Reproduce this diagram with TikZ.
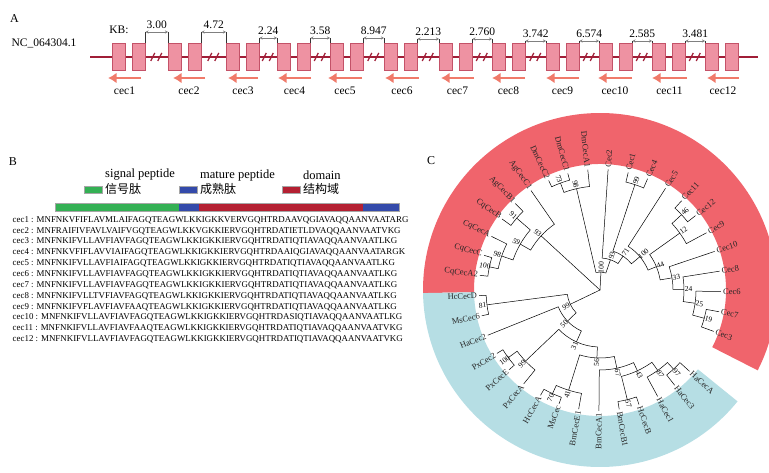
\documentclass[tikz,border=0pt]{standalone}
\usepackage{fontspec}
\setmainfont{Liberation Serif}
\newfontfamily\cjk{Noto Sans CJK SC}
\usetikzlibrary{arrows.meta}

\definecolor{chrline}{RGB}{160,30,55}
\definecolor{exonfill}{RGB}{238,146,162}
\definecolor{exondraw}{RGB}{196,82,104}
\definecolor{dirarrow}{RGB}{240,122,106}
\definecolor{sigcol}{RGB}{52,176,84}
\definecolor{matcol}{RGB}{52,74,170}
\definecolor{domcol}{RGB}{180,32,50}
\definecolor{bandred}{RGB}{240,100,108}
\definecolor{bandblue}{RGB}{182,222,228}

%% leaf of the tree: angle, name
\newcommand{\leaf}[2]{%
  \expandafter\xdef\csname ang#2\endcsname{#1}%
  \coordinate (#2) at (#1:121);
  \pgfmathtruncatemacro\lfS{cos(#1)>=0}%
  \ifnum\lfS=1
    \node[leaflab,anchor=west,rotate=#1] (#2t) at (#1:123) {#2};
  \else
    \pgfmathsetmacro\lfR{#1-180}%
    \node[leaflab,anchor=east,rotate=\lfR] (#2t) at (#1:123) {#2};
  \fi}
%% clade: name, child, child, radius, support
\newcommand{\clade}[5]{%
  \edef\angA{\csname ang#2\endcsname}\edef\angB{\csname ang#3\endcsname}%
  \pgfmathsetmacro\angM{(\angA+\angB)/2}%
  \expandafter\xdef\csname ang#1\endcsname{\angM}%
  \pgfmathsetmacro\angR{cos(\angM)>=0 ? \angM : \angM-180}%
  \draw[treeline] (#2) -- (\angA:#4) arc[start angle=\angA, end angle=\angB, radius=#4] -- (#3);
  \coordinate (#1) at (\angM:#4);
  \node[boot,rotate=\angR] (#1t) at (\angM:#4+4.5) {#5};}

\begin{document}
\begin{tikzpicture}[x=1pt,y=1pt,
    panlab/.style={font=\fontsize{12}{14}\selectfont},
    exon/.style={draw=exondraw,fill=exonfill,line width=0.6pt,minimum width=13.5pt,minimum height=27pt,inner sep=0pt},
    genearrow/.style={dirarrow,line width=2.8pt,-{Latex[length=8.5pt,width=10.5pt]}},
    genelab/.style={font=\fontsize{11.5}{13}\selectfont,inner sep=0pt},
    kbtick/.style={black!80,line width=0.5pt},
    dimarrow/.style={gray,line width=0.5pt,{Stealth[length=3pt,width=3pt]}-{Stealth[length=3pt,width=3pt]}},
    breakmark/.style={chrline,line width=1.3pt},
    legtxt/.style={font=\fontsize{12.5}{14}\selectfont,inner sep=0pt,anchor=west},
    legcjk/.style={font=\cjk\fontsize{12}{14}\selectfont,inner sep=0pt,anchor=west},
    legbox/.style={draw=gray!70,minimum width=18pt,minimum height=7pt,inner sep=0pt},
    seqtxt/.style={font=\fontsize{8.9}{10}\selectfont,inner sep=0pt,anchor=west},
    leaflab/.style={font=\fontsize{8.5}{10}\selectfont,inner sep=0pt,text=black!85},
    boot/.style={font=\fontsize{7.5}{8}\selectfont,inner sep=0.3pt},
    treeline/.style={black,line width=0.5pt}]
    \useasboundingbox (0,0) rectangle (769,-473);

    %% ---------- A: gene map ----------
    \node[panlab] (labA) at (14.5,-19) {A};
    \node[genelab] (chrom) at (44,-43) {NC\_064304.1};
    \node[genelab] (kbunit) at (119,-29.5) {KB:};
    \draw[chrline,line width=1.6pt] (90,-57) -- (758,-57);
    %% exon pairs, direction arrows, gene names
    \foreach \gx/\ax/\bx/\gname [count=\i] in {112/108/141/cec1, 168/173/205/cec2,
        226/228/258/cec3, 277/278/311/cec4, 330/328/362/cec5, 384/385/419/cec6,
        439/441/474/cec7, 492/492/525/cec8, 546/546/579/cec9, 599/598/632/cec10,
        652/652/687/cec11, 705/707/739/cec12} {
      \node[exon] (e\i a) at (\gx+6.75,-57) {};
      \node[exon] (e\i b) at (\gx+26.75,-57) {};
      \coordinate (t\i) at (\bx,-78);
      \coordinate (h\i) at (\ax,-78);
      \draw[genearrow] (t\i) -- (h\i);
      \node[genelab] (g\i) at ({(\ax+\bx)/2},-91) {\gname};
    }
    %% distances between genes
    \foreach \lx/\rx/\kb/\ty/\ay [count=\j] in {145.5/168/3.00/25/32, 201.5/226/4.72/25/32,
        259.5/277/2.24/31/38, 310.5/330/3.58/31/38, 363.5/384/8.947/31/38,
        417.5/439/2.213/32/39, 472.5/492/2.760/32/39, 525.5/546/3.742/34/41,
        579.5/599/6.574/34/41, 632.5/652/2.585/34/41, 685.5/705/3.481/34/41} {
      \coordinate (kl\j) at (\lx,-\ay);
      \coordinate (kr\j) at (\rx,-\ay);
      \draw[kbtick] (\lx,-43.5) -- (kl\j);
      \draw[kbtick] (\rx,-43.5) -- (kr\j);
      \draw[dimarrow] (kl\j) -- (kr\j);
      \node[genelab] (kb\j) at ({(\lx+\rx)/2},-\ty) {\kb};
      \draw[breakmark] ({(\lx+\rx)/2-6},-61) -- ++(4,8);
      \draw[breakmark] ({(\lx+\rx)/2+1},-61) -- ++(4,8);
    }

    %% ---------- B: peptides ----------
    \node[panlab] (labB) at (13,-162) {B};
    \node[legtxt] (lt1) at (105,-175) {signal peptide};
    \node[legtxt] (lt2) at (200,-175) {mature peptide};
    \node[legtxt] (lt3) at (303,-175) {domain};
    \node[legbox,fill=sigcol] (lb1) at (93,-189.5) {};
    \node[legbox,fill=matcol] (lb2) at (188,-189.5) {};
    \node[legbox,fill=domcol] (lb3) at (291.5,-189.5) {};
    \node[legcjk] (lc1) at (105,-189) {信号肽};
    \node[legcjk] (lc2) at (200,-189) {成熟肽};
    \node[legcjk] (lc3) at (303,-189) {结构域};
    %% bar
    \fill[sigcol] (55,-203) rectangle (179,-211);
    \fill[matcol] (179,-203) rectangle (199,-211);
    \fill[domcol] (199,-203) rectangle (363,-211);
    \fill[matcol] (363,-203) rectangle (399,-211);
    \draw[gray!70,line width=0.6pt] (55,-203) rectangle (399,-211);
    %% sequences
    \foreach \s [count=\k] in {MNFNKVFIFLAVMLAIFAGQTEAGWLKKIGKKVERVGQHTRDAAVQGIAVAQQAANVAATARG,
        MNFRAIFIVFAVLVAIFVGQTEAGWLKKVGKKIERVGQHTRDATIETLDVAQQAANVAATVKG,
        MNFNKIFVLLAVFIAVFAGQTEAGWLKKIGKKIERVGQHTRDATIQTIAVAQQAANVAATLKG,
        MNFNKVFIFLAVVIAIFAGQTEAGWLKKIGKKIERVGQHTRDAAIQGIAVAQQAANVAATARGK,
        MNFNKIFVLLAVFIAIFAGQTEAGWLKKIGKKIERVGQHTRDATIQTIAVAQQAANVAATLKG,
        MNFNKIFVLLAVFIAVFAGQTEAGWLKKIGKKIERVGQHTRDATIQTIAVAQQAANVAATLKG,
        MNFNKIFVLLAVFIAVFAGQTEAGWLKKIGKKIERVGQHTRDATIQTIAVAQQAANVAATLKG,
        MNFNKIFVLLTVFIAVFAGQTEAGWLKKIGKKIERVGQHTRDATIQTIAVAQQAANVAATLKG,
        MNFNKIFVFLAVFIAVFAAQTEAGWLKKIGKKIERVGQHTRDATIQTIAVAQQAANVAATLKG,
        MNFNKIFVLLAVFIAVFAGQTEAGWLKKIGKKIERVGQHTRDASIQTIAVAQQAANVAATLKG,
        MNFNKIFVLLAVFIAVFAAQTEAGWLKKIGKKIERVGQHTRDATIQTIAVAQQAANVAATVKG,
        MNFNKIFVLLAVFIAVFAGQTEAGWLKKIGKKIERVGQHTRDATIQTIAVAQQAANVAATVKG} {
      \node[seqtxt] (s\k) at (12.5,{-220-10.85*(\k-1)}) {cec\k{} : \s};
    }

    %% ---------- C: tree ----------
    \node[panlab] (labC) at (431,-161) {C};
    \begin{scope}[shift={(600,-290)}]
      %% coloured bands
      \fill[bandred] (-27:126) arc[start angle=-27,end angle=181,radius=126]
        -- (181:177) arc[start angle=181,end angle=-27,radius=177] -- cycle;
      \fill[bandblue] (181:126) arc[start angle=181,end angle=321,radius=126]
        -- (321:177) arc[start angle=321,end angle=181,radius=177] -- cycle;
      %% leaves
      \leaf{-20}{Cec3}     \leaf{-10.35}{Cec7}   \leaf{-0.7}{Cec6}     \leaf{8.95}{Cec8}
      \leaf{18.6}{Cec10}   \leaf{28.25}{Cec9}    \leaf{37.9}{Cec12}    \leaf{47.55}{Cec11}
      \leaf{57.2}{Cec5}    \leaf{66.85}{Cec4}    \leaf{76.5}{Cec1}     \leaf{86.15}{Cec2}
      \leaf{95.8}{DmCecA1} \leaf{105.45}{DmCecC1} \leaf{115.1}{DmCecC2} \leaf{124.75}{AgCecC1}
      \leaf{134.4}{AgCecB1} \leaf{144.05}{CqCecB} \leaf{153.7}{CqCecA}  \leaf{163.35}{CqCecC}
      \leaf{173}{CqCecA2}  \leaf{182.65}{HcCecD} \leaf{192.3}{MsCec6}   \leaf{201.95}{HaCec2}
      \leaf{211.6}{PxCec2} \leaf{221.25}{PxCecE} \leaf{230.9}{PxCecA}   \leaf{240.55}{HcCecA}
      \leaf{250.2}{MsCec}  \leaf{259.85}{BmCecE1} \leaf{269.5}{BmCecA1} \leaf{279.15}{BmCecB1}
      \leaf{288.8}{HcCecB} \leaf{298.45}{HaCec1} \leaf{308.1}{HaCec3}   \leaf{317.75}{HaCecA}
      %% Cec clade
      \clade{n19}{Cec7}{Cec3}{108}{19}
      \clade{n25}{Cec6}{n19}{96}{25}
      \clade{n24}{Cec8}{n25}{84}{24}
      \clade{n33}{Cec10}{n24}{73}{33}
      \clade{n46}{Cec11}{Cec12}{111}{46}
      \clade{n12}{n46}{Cec9}{98}{12}
      \clade{n44}{n12}{n33}{61}{44}
      \clade{n100b}{Cec5}{n44}{52}{100}
      \clade{n99}{Cec1}{Cec4}{111}{99}
      \clade{n71}{n99}{n100b}{41}{71}
      \clade{n93b}{Cec2}{n71}{32}{93}
      \clade{n73}{DmCecC1}{DmCecC2}{114}{73}
      \clade{n98b}{DmCecA1}{n73}{104}{98}
      \clade{n100c}{n98b}{n93b}{18}{100}
      %% Cq / Ag clade
      \clade{n100a}{CqCecA2}{CqCecC}{113}{100}
      \clade{n98a}{n100a}{CqCecA}{104}{98}
      \clade{n91}{CqCecB}{AgCecB1}{110}{91}
      \clade{n59}{n98a}{n91}{92}{59}
      \clade{n93}{n59}{AgCecC1}{80}{93}
      %% blue clade
      \clade{n81}{HcCecD}{MsCec6}{114}{81}
      \clade{n100d}{PxCec2}{PxCecE}{114}{100}
      \clade{n99b}{n100d}{PxCecA}{103}{99}
      \clade{n70}{HcCecA}{MsCec}{114}{70}
      \clade{n41}{n70}{BmCecE1}{105}{41}
      \clade{n57}{BmCecB1}{HcCecB}{113}{57}
      \clade{n97}{HaCec3}{HaCecA}{108}{97}
      \clade{n87}{HaCec1}{n97}{99}{87}
      \clade{n43}{n57}{n87}{89}{43}
      \clade{n67}{BmCecA1}{n43}{80}{67}
      \clade{n56}{n41}{n67}{68}{56}
      \clade{n31}{n99b}{n56}{57}{31}
      \clade{n50}{HaCec2}{n31}{45}{50}
      \clade{n99c}{n81}{n50}{33}{99}
      %% root
      \coordinate (root) at (0,0);
      \draw[treeline] (n93) -- (root) -- (n99c);
      \draw[treeline] (n100c) -- (root);
    \end{scope}
\end{tikzpicture}
\end{document}
